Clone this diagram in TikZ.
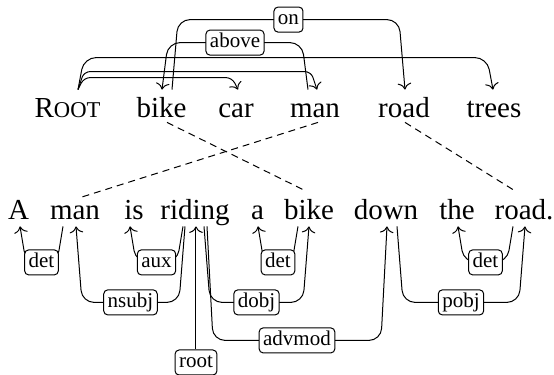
\documentclass[tikz,border=0pt]{standalone}
\usepackage{fontspec}
\setmainfont{Liberation Serif}
\usetikzlibrary{calc,arrows.meta}
\begin{document}
\begin{tikzpicture}[x=0.5pt,y=-0.5pt,
  word/.style={anchor=base,inner xsep=0pt,inner ysep=0.5pt,text height=13.5pt,text depth=2.5pt,font=\fontsize{14.5}{16}\selectfont},
  lab/.style={draw,line width=0.5pt,rounded corners=2pt,fill=white,inner xsep=2pt,inner ysep=1.25pt,text height=7.5pt,text depth=2.5pt,font=\fontsize{10.5}{12}\selectfont},
  dep/.style={draw,line width=0.5pt,rounded corners=6pt,-{To[scale=1.2]}},
  rdep/.style={draw,line width=0.5pt,rounded corners=3pt,-{To[scale=1.2]}},
  align/.style={draw,line width=0.5pt,dash pattern=on 3.5pt off 2.5pt}]
\useasboundingbox (0,0) rectangle (554,375);
% top row
\node[word] (ROOT) at (67.5,118) {R{\fontsize{11.3}{12}\selectfont OOT}};
\node[word] (bike1) at (161.5,118) {bike};
\node[word] (car1) at (236,118) {car};
\node[word] (man1) at (315,118) {man};
\node[word] (road1) at (404,118) {road};
\node[word] (trees1) at (494,118) {trees};
% bottom row
\node[word] (A) at (18.5,220) {A};
\node[word] (man2) at (75,220) {man};
\node[word] (is) at (134,220) {is};
\node[word] (riding) at (195,220) {riding};
\node[word] (a) at (257.5,220) {a};
\node[word] (bike2) at (309,220) {bike};
\node[word] (down) at (386,220) {down};
\node[word] (the) at (457,220) {the};
\node[word] (road2) at (524,220) {road.};
% alignment lines
\draw[align] ($(bike1.south)+(5.5,-2)$) -- ($(bike2.north)+(-6,-2)$);
\draw[align] ($(man1.south)+(3,-2)$) -- ($(man2.north)+(5,6)$);
\draw[align] ($(road1.south)+(1,-2)$) -- ($(road2.north)+(-11,-2)$);
% top edges
\draw[rdep] ($(ROOT.north)+(10.5,0)$) -- ++(6,-12) -- ($(car1.north)+(-4,-12)$) -- ($(car1.north)+(2,0)$);
\draw[rdep] ($(ROOT.north)+(10.5,0)$) -- ++(6,-18) -- ($(man1.north)+(-4,-18)$) -- ($(man1.north)+(2,0)$);
\draw[dep] ($(ROOT.north)+(10.5,0)$) -- ++(6,-32) -- ($(trees1.north)+(-7,-32)$) -- ($(trees1.north)+(-1,0)$);
\draw[dep] ($(man1.north)+(-7,0)$) -- ++(-6,-47) -- node[lab]{above} ($(bike1.north)+(6.5,-47)$) -- ($(bike1.north)+(0.5,0)$);
\draw[dep] ($(bike1.north)+(10.5,0)$) -- ++(6,-70) -- node[lab]{on} ($(road1.north)+(-5,-70)$) -- ($(road1.north)+(1,0)$);
% bottom edges
\draw[dep] ($(man2.south)+(-12,0)$) -- ++(-6,36) -- node[lab]{det} ($(A.south)+(7.5,36)$) -- ($(A.south)+(1.5,0)$);
\draw[dep] ($(riding.south)+(-10,0)$) -- ++(-6,76) -- node[lab]{nsubj} ($(man2.south)+(7,76)$) -- ($(man2.south)+(1,0)$);
\draw[dep] ($(riding.south)+(-12,0)$) -- ++(-6,36) -- node[lab]{aux} ($(is.south)+(2,36)$) -- ($(is.south)+(-4,0)$);
\draw[dep] ($(riding.south)+(9,0)$) -- ++(6,76) -- node[lab]{dobj} ($(bike2.south)+(-6,76)$) -- ($(bike2.south)+(0,0)$);
\draw[dep] ($(riding.south)+(12,0)$) -- ++(6,114) -- node[lab]{advmod} ($(down.south)+(-5,114)$) -- ($(down.south)+(1,0)$);
\draw[dep] ($(bike2.south)+(-11,0)$) -- ++(-6,36) -- node[lab]{det} ($(a.south)+(6.5,36)$) -- ($(a.south)+(0.5,0)$);
\draw[dep] ($(down.south)+(11,0)$) -- ++(6,76) -- node[lab]{pobj} ($(road2.south)+(-5,76)$) -- ($(road2.south)+(1,0)$);
\draw[dep] ($(road2.south)+(-11,0)$) -- ++(-6,36) -- node[lab]{det} ($(the.south)+(7,36)$) -- ($(the.south)+(1,0)$);
\node[lab] (rootlab) at (196,362.5) {root};
\draw[dep] (rootlab.north) -- ($(riding.south)+(1,0)$);
\end{tikzpicture}
\end{document}
